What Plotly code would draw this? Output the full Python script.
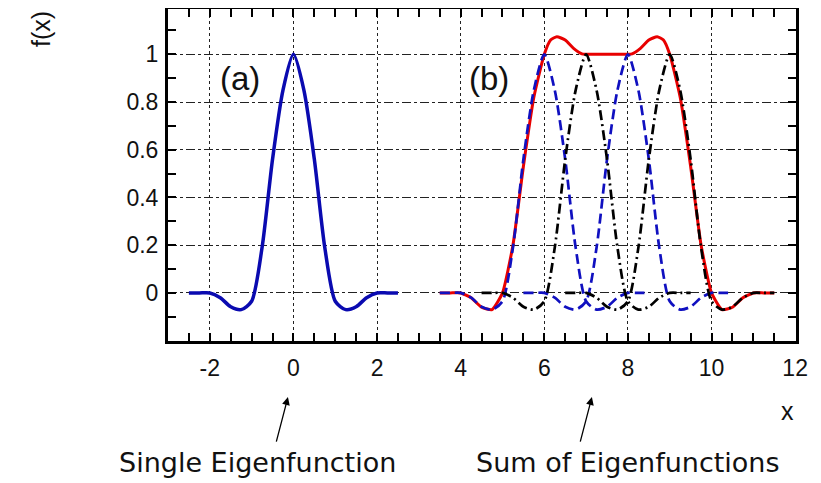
import plotly.graph_objects as go

# ---- data ----
# single eigenfunction profile (offset from its centre, value)
prof_x = [-2.5, -2.25, -2.0, -1.75, -1.5, -1.25, -1.0, -0.75, -0.5, -0.25, 0.0,
          0.25, 0.5, 0.75, 1.0, 1.25, 1.5, 1.75, 2.0, 2.25, 2.5]
prof_y = [0.0, 0.0, 0.0, -0.02, -0.058, -0.07, -0.035, 0.19, 0.56, 0.85, 1.0,
          0.85, 0.56, 0.19, -0.035, -0.07, -0.058, -0.02, 0.0, 0.0, 0.0]

# centres of the eigenfunctions
single_centre = [0]
blue_centres = [6, 8]
black_centres = [7, 9]

# sum of eigenfunctions (red)
sum_x = [3.5, 3.75, 4.0, 4.25, 4.5, 4.75, 5.0, 5.25, 5.5, 5.75, 6.0, 6.15, 6.3, 6.5, 6.7, 6.9,
         7.0, 7.25, 7.5, 7.75, 8.0, 8.1, 8.3, 8.5, 8.7, 8.85, 9.0, 9.25, 9.5, 9.75, 10.0,
         10.25, 10.5, 10.75, 11.0, 11.25, 11.5]
sum_y = [0.0, 0.0, 0.0, -0.02, -0.06, -0.07, 0.0, 0.2, 0.53, 0.82, 1.0, 1.06, 1.074, 1.06, 1.025, 1.002,
         1.0, 1.0, 1.0, 1.0, 1.0, 1.002, 1.025, 1.06, 1.074, 1.06, 1.0, 0.82, 0.53, 0.2, 0.0,
         -0.07, -0.06, -0.02, 0.0, 0.0, 0.0]

x_ticks = [-2, 0, 2, 4, 6, 8, 10, 12]
x_tick_text = ["-2", "0", "2", "4", "6", "8", "10", "12"]
y_ticks = [0, 0.2, 0.4, 0.6, 0.8, 1]
y_tick_text = ["0", "0.2", "0.4", "0.6", "0.8", "1"]

fig = go.Figure()

# red sum
fig.add_trace(go.Scatter(x=sum_x, y=sum_y, mode="lines",
                         line=dict(color="#e80000", width=3, shape="spline", smoothing=0.5),
                         showlegend=False))
for c in blue_centres:
    fig.add_trace(go.Scatter(x=[c + v for v in prof_x], y=prof_y, mode="lines",
                             line=dict(color="#1010c0", width=2.7, dash="10px,5px",
                                       shape="spline", smoothing=0.7),
                             showlegend=False))
for c in black_centres:
    fig.add_trace(go.Scatter(x=[c + v for v in prof_x], y=prof_y, mode="lines",
                             line=dict(color="black", width=2.7, dash="10px,4px,2px,4px",
                                       shape="spline", smoothing=0.7),
                             showlegend=False))
for c in single_centre:
    fig.add_trace(go.Scatter(x=[c + v for v in prof_x], y=prof_y, mode="lines",
                             line=dict(color="#0a0ab0", width=3.5, shape="spline", smoothing=0.7),
                             showlegend=False))

tickfont = dict(family="Liberation Sans, Arial, sans-serif", size=23, color="#111")

fig.update_xaxes(range=[-3, 12.02], tickvals=x_ticks, ticktext=x_tick_text, tickfont=tickfont,
                 showline=True, linewidth=3, linecolor="black", mirror="ticks",
                 ticks="inside", ticklen=8, tickwidth=1.5, tickcolor="black",
                 showgrid=True, gridcolor="#222", gridwidth=1, griddash="dot",
                 zeroline=False, ticklabelstandoff=4, automargin=False,
                 minor=dict(tick0=0, dtick=0.5, ticks="inside", ticklen=8,
                            tickwidth=1.5, tickcolor="black", showgrid=False))
fig.update_yaxes(range=[-0.2015, 1.19], tickvals=y_ticks, ticktext=y_tick_text, tickfont=tickfont,
                 showline=True, linewidth=3, linecolor="black", mirror="ticks",
                 ticks="inside", ticklen=8, tickwidth=1.5, tickcolor="black",
                 showgrid=True, gridcolor="#222", gridwidth=1, griddash="dashdot",
                 zeroline=False, ticklabelstandoff=2, automargin=False,
                 minor=dict(tick0=0, dtick=0.1, ticks="inside", ticklen=8,
                            tickwidth=1.5, tickcolor="black", showgrid=False))

labfont = dict(family="Liberation Sans, Arial, sans-serif", size=33, color="#111")
bottomfont = dict(family="DejaVu Sans, sans-serif", size=27, color="#111")
axfont = dict(family="Liberation Sans, Arial, sans-serif", size=25, color="#111")

annotations = [
    dict(x=-1.29, y=0.9, text="(a)", showarrow=False, font=labfont, xref="x", yref="y"),
    dict(x=4.68, y=0.9, text="(b)", showarrow=False, font=labfont, xref="x", yref="y"),
    dict(x=0.987, y=-0.211, text="x", showarrow=False, font=axfont,
         xref="paper", yref="paper", xanchor="center", yanchor="middle"),
    dict(x=-0.2022, y=0.94, text="f(x)", showarrow=False, textangle=-90, font=axfont,
         xref="paper", yref="paper", xanchor="center", yanchor="middle"),
    dict(x=0.1433, y=-0.367, text="Single Eigenfunction", showarrow=False, font=bottomfont,
         xref="paper", yref="paper", xanchor="center", yanchor="middle"),
    dict(x=0.7325, y=-0.367, text="Sum of Eigenfunctions", showarrow=False, font=bottomfont,
         xref="paper", yref="paper", xanchor="center", yanchor="middle"),
    dict(x=0.191, y=-0.169, text="", showarrow=True, ax=-12, ay=46, arrowhead=2,
         arrowsize=1.2, arrowwidth=1.3, arrowcolor="black", xref="paper", yref="paper"),
    dict(x=0.675, y=-0.169, text="", showarrow=True, ax=-12, ay=46, arrowhead=2,
         arrowsize=1.2, arrowwidth=1.3, arrowcolor="black", xref="paper", yref="paper"),
]

# the page adds an 8px body margin, so the figure is 8px smaller than the window
fig.update_layout(width=813, height=475, margin=dict(l=160, r=25, t=1, b=142),
                  plot_bgcolor="white", paper_bgcolor="white",
                  annotations=annotations, showlegend=False)

fig.write_html("out.html")
